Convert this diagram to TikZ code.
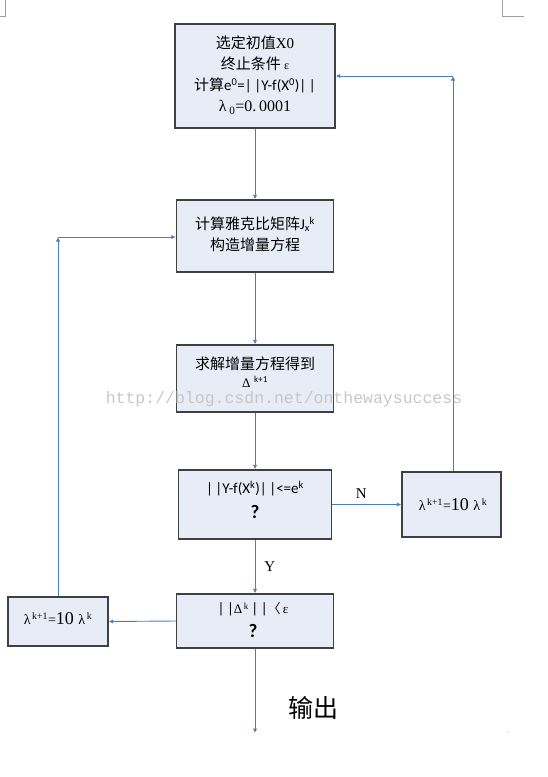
\documentclass[tikz,border=0pt]{standalone}
\usepackage{fontspec}
\setmainfont{Noto Sans CJK SC}
\newfontfamily\tms{Liberation Serif}
\newfontfamily\calib{Carlito}
\newfontfamily\mono{Liberation Mono}
\usetikzlibrary{arrows.meta}
\definecolor{boxfill}{RGB}{231,236,246}
\definecolor{boxline}{RGB}{64,64,64}
\definecolor{conncol}{RGB}{74,126,187}
\definecolor{markcol}{RGB}{160,160,160}
\tikzset{
  box/.style={draw=boxline, line width=1.4pt, fill=boxfill, inner sep=0pt},
  conn/.style={draw=conncol, line width=0.9pt, -{Latex[length=4.5pt,width=4.5pt]}},
  txt/.style={align=center, inner sep=0pt, font=\fontsize{15}{21}\selectfont},
  lbl/.style={inner sep=0pt, font=\fontsize{15}{18}\selectfont\tms},
  pagemark/.style={draw=markcol, line width=0.8pt}
}
\begin{document}
\begin{tikzpicture}[x=1pt,y=-1pt]
\useasboundingbox (0,0) rectangle (548,777);
% boxes
\node[box, minimum width=160pt, minimum height=104pt] (b1) at (255,76) {};
\node[box, minimum width=157pt, minimum height=72pt] (b2) at (255,236) {};
\node[box, minimum width=157pt, minimum height=67pt] (b3) at (255,378.5) {};
\node[box, minimum width=153pt, minimum height=69pt] (b4) at (255,504.5) {};
\node[box, minimum width=99pt, minimum height=65pt] (b5) at (451.5,504.5) {};
\node[box, minimum width=157pt, minimum height=54pt] (b6) at (255,621) {};
\node[box, minimum width=100pt, minimum height=49pt] (b7) at (58,621.5) {};
% texts
\node[txt] (t1) at (255,75) {选定初值{\tms X0}\\终止条件 {\tms\fontsize{12}{12}\selectfont ε}\\计算{\calib e\textsuperscript{0}=|\,|Y-f(X\textsuperscript{0})|\,|}\\{\tms\fontsize{16}{16}\selectfont λ\,\textsubscript{0}=0.\,0001}};
\node[txt] (t2) at (255,234) {计算雅克比矩阵{\calib J\textsubscript{x}\kern-0.5pt\textsuperscript{k}}\\构造增量方程};
\node[txt] (t3) at (255,372) {求解增量方程得到\\[-3pt]{\tms\fontsize{13}{13}\selectfont Δ\textsuperscript{\calib\, k+1}}};
\node[txt, font=\fontsize{15}{25}\selectfont] (t4) at (255,500) {{\calib |\,|Y-f(X\textsuperscript{k})|\,|<=e\textsuperscript{k}}\\{\calib\bfseries\fontsize{19}{19}\selectfont ?}};
\node[txt] (t5) at (453,505) {{\tms\fontsize{14}{14}\selectfont λ\textsuperscript{\,k+1}=\fontsize{18}{18}\selectfont 10 \fontsize{14}{14}\selectfont λ\textsuperscript{\,k}}};
\node[txt, font=\fontsize{15}{24}\selectfont] (t6) at (253,620) {{\calib |\,|}{\tms\fontsize{13}{13}\selectfont Δ\textsuperscript{\,k}}{\calib\,|\,|}{\fontsize{13}{13}\selectfont 〈}{\tms\fontsize{13}{13}\selectfont\,ε}\\{\calib\bfseries\fontsize{19}{19}\selectfont ?}};
\node[txt] (t7) at (58,619) {{\tms\fontsize{14}{14}\selectfont λ\textsuperscript{\,k+1}=\fontsize{18}{18}\selectfont 10 \fontsize{14}{14}\selectfont λ\textsuperscript{\,k}}};
% connectors
\coordinate (cL) at (58,237);
\coordinate (cR) at (453,76);
\coordinate (out) at (255,733);
\draw[conn] (b1.south) -- (b2.north);
\draw[conn] (b2.south) -- (b3.north);
\draw[conn] (b3.south) -- (b4.north);
\draw[conn] (b4.south) -- (b6.north) node[lbl, pos=0.5, right=9pt] (lY) {Y};
\draw[conn] (b4.east) -- (b5.west) node[lbl, pos=0.42, above=6pt] (lN) {N};
\draw[conn] (b5.north -| cR) -- (cR);
\draw[conn] (cR) -- (b1.east |- cR);
\draw[conn] (b6.west) -- (b7.east);
\draw[conn] (b7.north) -- (cL);
\draw[conn] (cL) -- (b2.west |- cL);
\draw[conn] (b6.south) -- (out);
\node[inner sep=0pt, font=\fontsize{25}{25}\selectfont] (lout) at (313,708) {输出};
% watermark
\node[inner sep=0pt, text=black!22, font=\fontsize{16.5}{16.5}\selectfont\mono] (wm) at (284,399) {http://blog.csdn.net/onthewaysuccess};
% page corner marks
\draw[pagemark] (5,0) -- (5,16) -- (0,16);
\draw[pagemark] (502,0) -- (502,16) -- (524,16);
\fill[markcol] (508,732) circle (0.6pt);
\end{tikzpicture}
\end{document}
